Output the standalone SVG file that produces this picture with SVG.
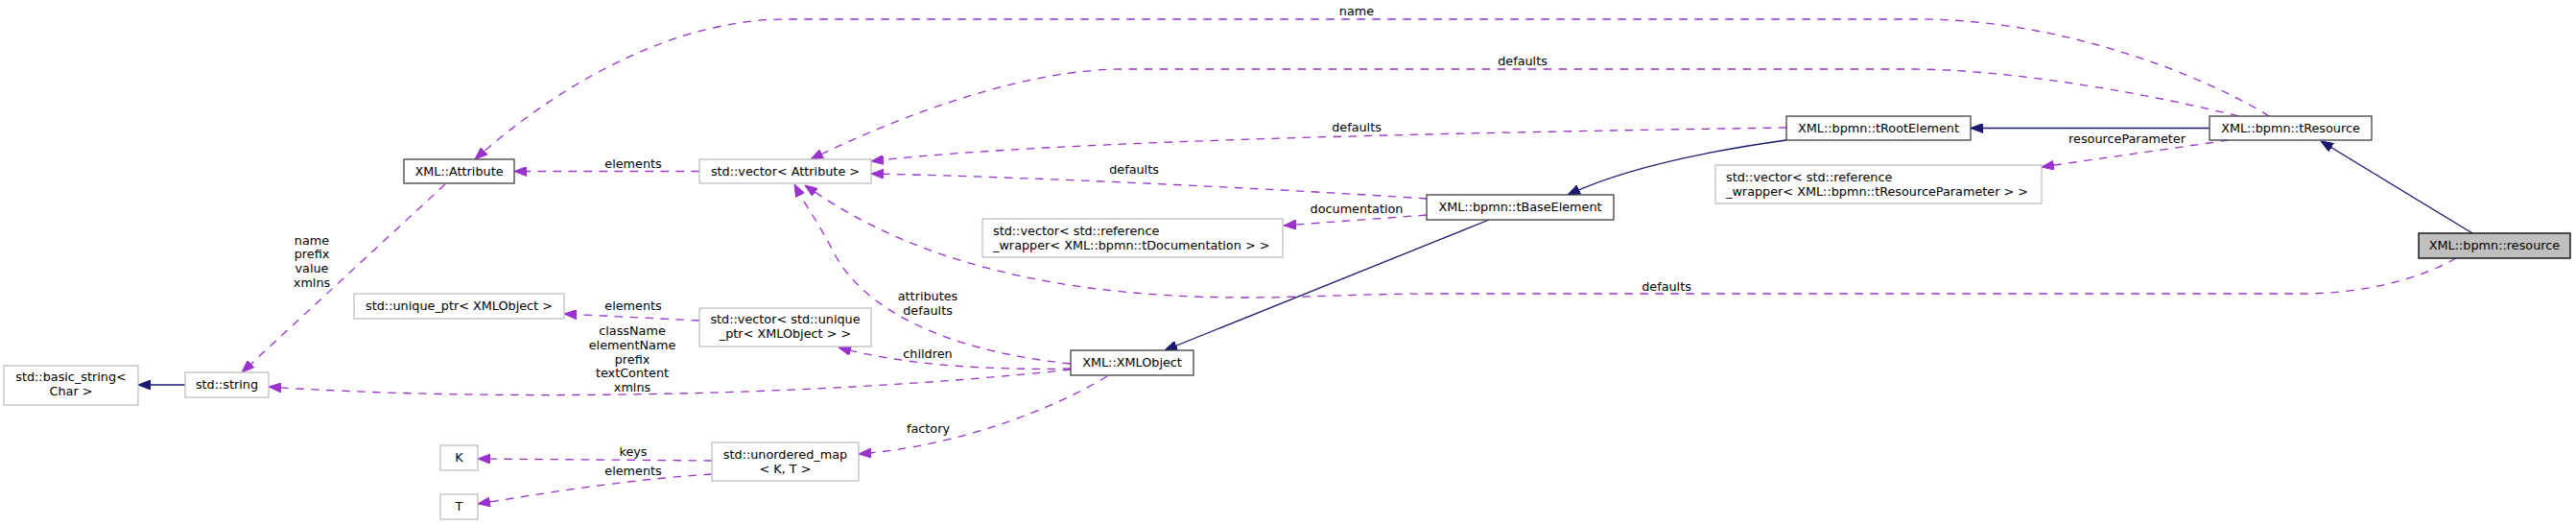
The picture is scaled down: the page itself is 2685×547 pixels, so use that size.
<svg xmlns="http://www.w3.org/2000/svg" width="2685" height="547" viewBox="0 0 2685 547">
<style>
text{font-family:"DejaVu Sans","Liberation Sans",sans-serif;font-size:12.8px;fill:#000}
.c{text-anchor:middle}
.l{text-anchor:start}
.n rect{fill:#fff;stroke:#404040;stroke-width:1.3}
.s rect{fill:#fff;stroke:#bfbfbf;stroke-width:1.3}
.g rect{fill:#bfbfbf;stroke:#000;stroke-width:1.3}
.d{fill:none;stroke:#9a32cd;stroke-width:1.3;stroke-dasharray:8.5,7.5;marker-end:url(#ap)}
.i{fill:none;stroke:#191970;stroke-width:1.3;marker-end:url(#an)}
</style>
<defs>
<marker id="ap" markerUnits="userSpaceOnUse" viewBox="0 0 13 10" refX="13" refY="5" markerWidth="13" markerHeight="10" orient="auto"><path d="M0,0 L13,5 L0,10 z" fill="#9a32cd" stroke="#9a32cd"/></marker>
<marker id="an" markerUnits="userSpaceOnUse" viewBox="0 0 13 10" refX="13" refY="5" markerWidth="13" markerHeight="10" orient="auto"><path d="M0,0 L13,5 L0,10 z" fill="#191970" stroke="#191970"/></marker>
</defs>
<rect width="2685" height="547" fill="#fff"/>
<g id="connectors">
<path class="i" d="M2577,243 L2419,147"/>
<path class="i" d="M2303,133.5 L2054,133.5"/>
<path class="i" d="M1862,146 C1790,156 1700,172 1634,203"/>
<path class="i" d="M1552,229 L1214,365"/>
<path class="i" d="M193,401 L144,401"/>
<path class="d" d="M464,192 L252,388"/>
<path class="d" d="M729,178.5 L536,178.5"/>
<path class="d" d="M2365,121 C2300,80 2150,20 2000,20 L820,20 C700,20 580,90 495,166"/>
<path class="d" d="M2333,121 C2250,100 2100,72 1990,72 L1170,72 C1080,72 960,110 845,166"/>
<path class="d" d="M1862,133 C1600,137 1100,145 908,168"/>
<path class="d" d="M1487,207 C1350,198 1100,185 908,181"/>
<path class="d" d="M1487,224 L1338,235"/>
<path class="d" d="M2560,269 C2520,292 2460,306 2400,306 L1500,306 C1420,306 1360,310 1300,310 C1050,310 920,250 839,193"/>
<path class="d" d="M1116,379 C980,365 900,320 870,265 C855,235 840,215 828,192"/>
<path class="d" d="M1116,384 C1030,386 940,380 874,362"/>
<path class="d" d="M1116,385 C850,414 500,418 280,403"/>
<path class="d" d="M729,334 L588,327"/>
<path class="d" d="M1154,392 C1100,425 1000,465 895,473"/>
<path class="d" d="M742,480 L498,478"/>
<path class="d" d="M742,494 C650,500 560,515 498,525"/>
<path class="d" d="M2323,146 L2128,174"/>
<text class="c" x="1414" y="16">name</text>
<text class="c" x="1587" y="67.7">defaults</text>
<text class="c" x="1414" y="137.3">defaults</text>
<text class="c" x="1182" y="181">defaults</text>
<text class="c" x="660" y="175">elements</text>
<text class="c" x="1414" y="221.7">documentation</text>
<text class="c" x="2217" y="148.5">resourceParameter</text>
<text class="c" x="1737" y="302.7">defaults</text>
<text class="c" x="325" y="254.5">name</text>
<text class="c" x="325" y="269.3">prefix</text>
<text class="c" x="325" y="284">value</text>
<text class="c" x="325" y="298.8">xmlns</text>
<text class="c" x="660" y="323.3">elements</text>
<text class="c" x="659" y="349.3">className</text>
<text class="c" x="659" y="364">elementName</text>
<text class="c" x="659" y="378.7">prefix</text>
<text class="c" x="659" y="393.3">textContent</text>
<text class="c" x="659" y="408">xmlns</text>
<text class="c" x="967" y="313.3">attributes</text>
<text class="c" x="967" y="328">defaults</text>
<text class="c" x="967" y="373.3">children</text>
<text class="c" x="967.5" y="451">factory</text>
<text class="c" x="660" y="475">keys</text>
<text class="c" x="660" y="495">elements</text>
</g>
<g id="resource" class="g"><rect x="2521" y="243" width="158" height="26"/><text class="c" x="2600" y="259.5">XML::bpmn::resource</text></g>
<g id="tResource" class="n"><rect x="2303" y="121" width="169" height="25"/><text class="c" x="2387.5" y="137.5">XML::bpmn::tResource</text></g>
<g id="tRootElement" class="n"><rect x="1862" y="121" width="192" height="25"/><text class="c" x="1958" y="137.5">XML::bpmn::tRootElement</text></g>
<g id="tBaseElement" class="n"><rect x="1487" y="203" width="195" height="26"/><text class="c" x="1584.5" y="219.5">XML::bpmn::tBaseElement</text></g>
<g id="vecResourceParameter" class="s"><rect x="1788" y="172" width="340" height="40"/><text class="l" x="1799" y="188.5">std::vector&lt; std::reference</text><text class="l" x="1799" y="203.5">_wrapper&lt; XML::bpmn::tResourceParameter &gt; &gt;</text></g>
<g id="vecDocumentation" class="s"><rect x="1024" y="228" width="313" height="40"/><text class="l" x="1035" y="244.5">std::vector&lt; std::reference</text><text class="l" x="1035" y="259.5">_wrapper&lt; XML::bpmn::tDocumentation &gt; &gt;</text></g>
<g id="vecAttribute" class="s"><rect x="729" y="166" width="179" height="25"/><text class="c" x="818.5" y="182.5">std::vector&lt; Attribute &gt;</text></g>
<g id="Attribute" class="n"><rect x="421" y="166" width="115" height="25"/><text class="c" x="478.5" y="182.5">XML::Attribute</text></g>
<g id="vecUniquePtr" class="s"><rect x="729" y="321" width="179" height="40"/><text class="c" x="818.5" y="337.3">std::vector&lt; std::unique</text><text class="c" x="818.5" y="352.3">_ptr&lt; XMLObject &gt; &gt;</text></g>
<g id="XMLObject" class="n"><rect x="1116" y="365" width="128" height="26"/><text class="c" x="1180" y="381.5">XML::XMLObject</text></g>
<g id="uniquePtr" class="s"><rect x="369" y="306" width="219" height="26"/><text class="c" x="478.5" y="322.5">std::unique_ptr&lt; XMLObject &gt;</text></g>
<g id="string" class="s"><rect x="193" y="388" width="87" height="26"/><text class="c" x="236.5" y="404.5">std::string</text></g>
<g id="basicString" class="s"><rect x="4" y="381" width="140" height="41"/><text class="c" x="74" y="397.3">std::basic_string&lt;</text><text class="c" x="74" y="411.7">Char &gt;</text></g>
<g id="unorderedMap" class="s"><rect x="742" y="461" width="153" height="40"/><text class="c" x="818.5" y="477.5">std::unordered_map</text><text class="c" x="818.5" y="492.5">&lt; K, T &gt;</text></g>
<g id="K" class="s"><rect x="459" y="464" width="39" height="26"/><text class="c" x="478.5" y="480.5">K</text></g>
<g id="T" class="s"><rect x="459" y="515" width="39" height="26"/><text class="c" x="478.5" y="531.5">T</text></g>
</svg>
